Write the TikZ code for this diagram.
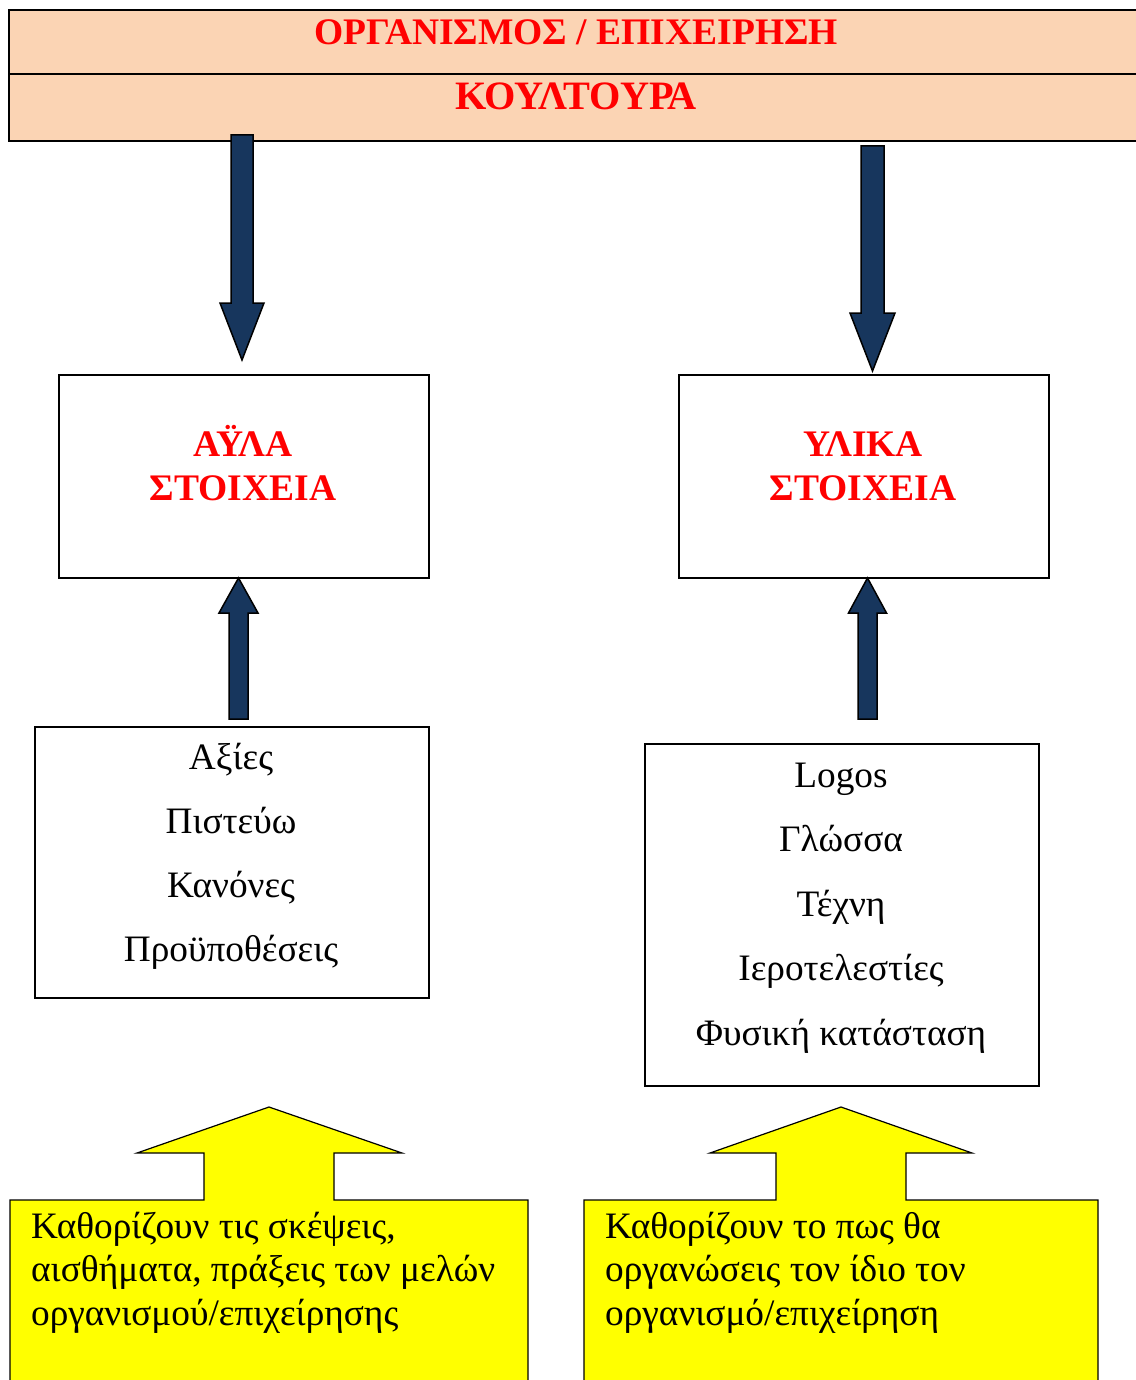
\documentclass[tikz,border=0pt]{standalone}
\usepackage{fontspec}
\setmainfont{Liberation Serif}
\usetikzlibrary{calc}
\definecolor{peach}{HTML}{FBD4B4}
\definecolor{navy}{HTML}{17365D}
\definecolor{hred}{HTML}{FF0000}
\definecolor{yel}{HTML}{FFFF00}
\tikzset{
  hdrcell/.style={draw=black, line width=2pt, fill=peach, inner sep=0pt, anchor=north west},
  hdrtext/.style={text=hred, font=\fontsize{37.5}{40}\selectfont\bfseries, anchor=base, inner sep=0pt},
  box/.style={draw=black, line width=1.5pt, fill=white, inner sep=0pt, anchor=north west},
  boxtitle/.style={text=hred, font=\fontsize{37.5}{40}\selectfont\bfseries, anchor=base, inner sep=0pt},
  item/.style={font=\fontsize{37.3}{40}\selectfont, anchor=base, inner sep=0pt},
  blockarrow/.style={draw=black, line width=1.5pt, fill=navy, line join=miter},
  callout/.style={draw=black, line width=1.2pt, fill=yel, line join=miter},
  callouttext/.style={font=\fontsize{37.3}{43.5}\selectfont, anchor=base west, inner sep=0pt, align=left},
}
% vertical block arrow: #1 start, #2 tip, #3 shaft half width, #4 head half width, #5 head length
\newcommand\vblockarrow[5]{%
  \draw[blockarrow] let \p1=(#1), \p2=(#2), \n1={sign(\y2-\y1)} in
    (\x1-#3,\y1) -- (\x1-#3,\y2-\n1*#5) -- (\x1-#4,\y2-\n1*#5) -- (\x2,\y2)
    -- (\x1+#4,\y2-\n1*#5) -- (\x1+#3,\y2-\n1*#5) -- (\x1+#3,\y1) -- cycle;}
\begin{document}
\begin{tikzpicture}[x=1pt,y=-1pt]
\useasboundingbox (0,0) rectangle (1135,1380);

% header
\node[hdrcell, minimum width=1140pt, minimum height=64pt] (hdr1) at (8,9) {};
\node[hdrcell, minimum width=1140pt, minimum height=67pt] (hdr2) at (8,73) {};
\node[hdrtext] (org) at (576,45) {ΟΡΓΑΝΙΣΜΟΣ / ΕΠΙΧΕΙΡΗΣΗ};
\node[hdrtext, font=\fontsize{40.3}{44}\selectfont\bfseries] (kult) at (576,110) {ΚΟΥΛΤΟΥΡΑ};

% element boxes
\node[box, minimum width=370pt, minimum height=203pt] (ayla) at (58,374) {};
\node[box, minimum width=370pt, minimum height=203pt] (ylika) at (678,374) {};
\node[boxtitle] (ayla1) at (243,456) {ΑΫΛΑ};
\node[boxtitle] (ayla2) at (243,500) {ΣΤΟΙΧΕΙΑ};
\node[boxtitle] (ylika1) at (863,456) {ΥΛΙΚΑ};
\node[boxtitle] (ylika2) at (863,500) {ΣΤΟΙΧΕΙΑ};

% list boxes
\node[box, minimum width=394pt, minimum height=271pt] (llist) at (34,726) {};
\node[box, minimum width=394pt, minimum height=342pt] (rlist) at (644,743) {};
\node[item] (l1) at (231,769) {Αξίες};
\node[item] (l2) at (231,833) {Πιστεύω};
\node[item] (l3) at (231,897) {Κανόνες};
\node[item] (l4) at (231,961) {Προϋποθέσεις};
\node[item] (r1) at (841,787) {Logos};
\node[item] (r2) at (841,851) {Γλώσσα};
\node[item] (r3) at (841,916) {Τέχνη};
\node[item] (r4) at (841,980) {Ιεροτελεστίες};
\node[item] (r5) at (841,1045) {Φυσική κατάσταση};

% arrow end points
\coordinate (ad1s) at (242,135);
\coordinate (ad1e) at (242,360);
\coordinate (ad2s) at (872.5,146);
\coordinate (ad2e) at (872.5,371);
\coordinate (au1s) at (238.5,719);
\coordinate (au1e) at (238.5,578);
\coordinate (au2s) at (867.5,719);
\coordinate (au2e) at (867.5,578);
\vblockarrow{ad1s}{ad1e}{11pt}{22pt}{57pt}
\vblockarrow{ad2s}{ad2e}{11.5pt}{22.5pt}{58pt}
\vblockarrow{au1s}{au1e}{9.5pt}{19.5pt}{35pt}
\vblockarrow{au2s}{au2e}{9.5pt}{19pt}{35pt}

% callouts
\draw[callout] (10,1400) -- (10,1200) -- (204,1200) -- (204,1153) -- (137,1153) -- (269,1107)
  -- (402,1153) -- (334,1153) -- (334,1200) -- (528,1200) -- (528,1400);
\draw[callout] (584,1400) -- (584,1200) -- (776,1200) -- (776,1153) -- (710,1153) -- (841,1107)
  -- (972,1153) -- (906,1153) -- (906,1200) -- (1098,1200) -- (1098,1400);
\node[callouttext] (ct1) at (31,1325) {Καθορίζουν τις σκέψεις,\\αισθήματα, πράξεις των μελών\\οργανισμού/επιχείρησης};
\node[callouttext] (ct2) at (605,1325) {Καθορίζουν το πως θα\\οργανώσεις τον ίδιο τον\\οργανισμό/επιχείρηση};
\end{tikzpicture}
\end{document}
